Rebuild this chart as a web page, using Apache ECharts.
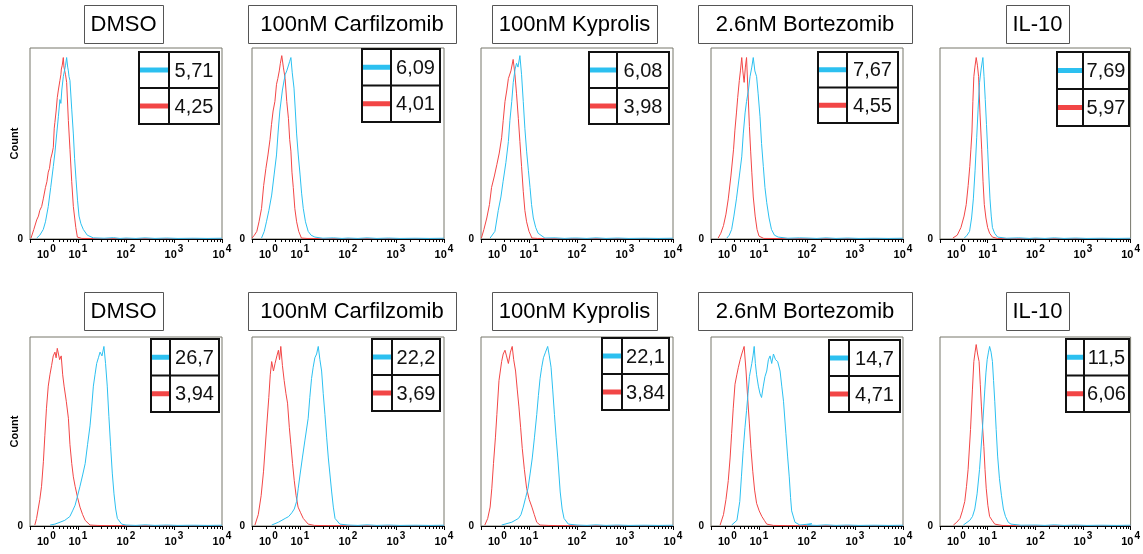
<!DOCTYPE html>
<html>
<head>
<meta charset="utf-8">
<title>MFI histograms</title>
<script src="https://cdn.jsdelivr.net/npm/echarts@6/dist/echarts.min.js"></script>
<style>
  html, body { margin: 0; padding: 0; background: #fff; }
  #chart { width: 1143px; height: 554px; }
</style>
</head>
<body>
<div id="chart"></div>
<script>
  // panel titles, same for both rows
  var titles = ['DMSO', '100nM Carfilzomib', '100nM Kyprolis', '2.6nM Bortezomib', 'IL-10'];
  var decadeTicks = [1, 10, 100, 1000, 10000];
  var minorTicks = [2, 3, 4, 5, 6, 7, 8, 9, 20, 30, 40, 50, 60, 70, 80, 90,
    200, 300, 400, 500, 600, 700, 800, 900, 2000, 3000, 4000, 5000, 6000, 7000, 8000, 9000];

  // MFI values in the small boxes (cyan first, red second)
  var topCyanMfi = ['5,71', '6,09', '6,08', '7,67', '7,69'];
  var topRedMfi = ['4,25', '4,01', '3,98', '4,55', '5,97'];
  var bottomCyanMfi = ['26,7', '22,2', '22,1', '14,7', '11,5'];
  var bottomRedMfi = ['3,94', '3,69', '3,84', '4,71', '6,06'];

  // histograms: [fluorescence, % of max count]
  var dmsoTopRed = [[1.05, 0.5], [1.2, 5], [1.38, 10], [1.5, 12], [1.6, 15], [1.75, 17], [1.89, 21], [2.1, 27], [2.25, 30], [2.4, 35], [2.55, 37], [2.7, 42], [2.9, 45], [3.06, 48], [3.2, 58], [3.3, 61], [3.5, 67], [3.7, 74], [3.9, 78], [4.2, 83], [4.4, 86], [4.5, 89], [4.7, 91], [4.94, 95], [5.1, 90], [5.3, 91], [5.5, 86], [5.8, 82], [6.3, 62], [6.8, 47], [7.4, 30], [8.0, 17], [9.0, 6], [9.7, 1], [12, 0.3]];
  var dmsoTopCyan = [[1.38, 0.5], [1.6, 2], [1.89, 5], [2.1, 9], [2.4, 17], [2.7, 27], [3.06, 38], [3.3, 45], [3.6, 55], [3.9, 64], [4.2, 73], [4.4, 71], [4.6, 78], [4.94, 85], [5.2, 84], [5.5, 91], [5.8, 95], [6.1, 90], [6.3, 88], [6.5, 85], [6.8, 83], [7.4, 68], [8.0, 55], [8.5, 42], [9.1, 31], [9.8, 20], [10.5, 12], [11.5, 8], [12.9, 5], [15.6, 2], [20.9, 0.6], [35, 0.4], [55, 0.7], [75, 0.3]];
  var carfTopRed = [[1.0, 0.5], [1.12, 2], [1.26, 4], [1.4, 9], [1.58, 16], [1.75, 28], [1.95, 37], [2.15, 44], [2.37, 52], [2.55, 60], [2.75, 67], [3.0, 72], [3.24, 81], [3.45, 84], [3.7, 88], [3.9, 92], [4.17, 96], [4.5, 90], [4.9, 84], [5.3, 72], [5.75, 63], [6.1, 52], [6.46, 46], [6.8, 35], [7.24, 27], [7.8, 16], [8.51, 9], [9.4, 4], [10.7, 0.5], [14, 0.3]];
  var carfTopCyan = [[1.58, 0.5], [1.8, 4], [2.0, 9], [2.25, 15], [2.57, 23], [2.9, 34], [3.24, 44], [3.5, 56], [3.8, 67], [4.3, 78], [4.9, 86], [5.3, 88], [5.75, 89], [6.1, 93], [6.46, 95], [6.9, 87], [7.5, 79], [8.0, 67], [8.51, 55], [9.2, 44], [10, 34], [10.8, 24], [11.7, 16], [13, 9], [14.8, 4], [17, 2], [20.4, 1], [30, 0.4], [50, 0.6], [75, 0.3]];
  var kypTopRed = [[1.02, 0.5], [1.15, 5], [1.32, 11], [1.5, 18], [1.66, 27], [1.9, 33], [2.14, 39], [2.4, 45], [2.69, 53], [2.9, 62], [3.16, 72], [3.45, 78], [3.72, 84], [4.2, 88], [4.68, 94], [5.1, 86], [5.5, 76], [6.0, 63], [6.46, 51], [7.0, 38], [7.59, 25], [8.2, 15], [8.91, 9], [10, 4], [11.5, 0.5], [15, 0.3]];
  var kypTopCyan = [[1.55, 0.5], [1.95, 4], [2.29, 15], [2.6, 22], [2.88, 30], [3.3, 40], [3.72, 51], [4.0, 62], [4.37, 72], [4.7, 82], [5.13, 89], [5.5, 92], [5.9, 90], [6.46, 96], [7.0, 86], [7.59, 72], [8.2, 58], [8.91, 46], [9.7, 36], [10.5, 27], [11.3, 18], [12.3, 11], [13.8, 6], [15.5, 3], [21.4, 0.5], [35, 0.6], [55, 0.3], [80, 0.5]];
  var bortTopRed = [[1.41, 0.5], [1.6, 3], [1.82, 7], [2.05, 13], [2.29, 21], [2.6, 33], [2.95, 47], [3.15, 57], [3.39, 66], [3.6, 74], [3.89, 83], [4.1, 88], [4.37, 95], [4.6, 88], [4.9, 82], [5.2, 90], [5.5, 95], [5.9, 77], [6.31, 59], [6.7, 46], [7.08, 35], [7.6, 22], [8.32, 12], [9.1, 5], [10, 1.5], [12.6, 0.3]];
  var bortTopCyan = [[2.14, 0.5], [2.4, 2], [2.69, 5], [3.0, 12], [3.39, 21], [3.9, 33], [4.37, 43], [4.7, 55], [5.13, 66], [5.5, 72], [6.03, 78], [6.5, 85], [7.08, 90], [7.59, 95], [8.2, 88], [8.91, 85], [9.6, 76], [10.5, 64], [11.3, 50], [12.3, 38], [13.3, 27], [14.5, 19], [16.2, 11], [18.2, 5], [21, 2], [25.1, 1], [40, 0.4], [70, 0.6]];
  var il10TopRed = [[1.86, 0.5], [2.3, 2], [2.75, 6], [3.2, 12], [3.55, 18], [3.9, 28], [4.22, 38], [4.45, 47], [4.68, 56], [4.9, 72], [5.13, 85], [5.4, 90], [5.75, 95], [6.1, 91], [6.46, 85], [6.9, 66], [7.5, 47], [8.0, 30], [8.51, 18], [9.2, 11], [10, 6], [11, 3], [12.6, 1], [16, 0.3]];
  var il10TopCyan = [[3.24, 0.5], [3.7, 2], [4.17, 4], [4.6, 11], [5.01, 21], [5.45, 36], [5.89, 53], [6.3, 68], [6.76, 82], [7.3, 89], [7.94, 95], [8.4, 85], [8.91, 73], [9.45, 60], [10, 47], [10.6, 33], [11.2, 21], [11.9, 12], [12.6, 6], [14, 3], [16.2, 1], [25, 0.4], [45, 0.6], [75, 0.3]];

  var dmsoBotRed = [[1.26, 0.5], [1.37, 4], [1.48, 9], [1.6, 14], [1.74, 21], [1.9, 34], [2.04, 48], [2.2, 62], [2.4, 74], [2.6, 80], [2.82, 85], [3.05, 90], [3.31, 92], [3.5, 89], [3.7, 94], [3.89, 95], [4.15, 88], [4.47, 90], [4.8, 80], [5.13, 74], [5.7, 66], [6.31, 57], [6.8, 43], [7.41, 33], [8.0, 26], [8.71, 21], [9.8, 15], [11.0, 10], [12.5, 6], [14.1, 3], [17.8, 0.5], [25, 0.3]];
  var dmsoBotCyan = [[2.63, 0.5], [3.3, 1], [4.22, 2], [5.3, 3], [6.76, 5], [7.7, 8], [8.71, 11], [9.8, 16], [11.0, 21], [12.5, 27], [14.1, 33], [15.8, 43], [17.8, 53], [19.3, 63], [20.9, 74], [22.6, 80], [24.5, 86], [26.6, 89], [28.8, 92], [31.6, 90], [34.7, 95], [37.5, 86], [40.7, 74], [44, 58], [47.9, 42], [51.8, 28], [56.2, 17], [61, 9], [66.1, 4], [81.3, 1]];
  var carfBotRed = [[1.15, 0.5], [1.35, 6], [1.55, 16], [1.74, 29], [2.04, 54], [2.24, 68], [2.4, 80], [2.57, 87], [2.8, 82], [3.02, 86], [3.3, 90], [3.55, 93], [3.75, 88], [3.98, 95], [4.3, 85], [4.68, 77], [5.1, 70], [5.5, 65], [6.0, 52], [6.46, 43], [7.0, 33], [7.59, 24], [8.3, 16], [9.12, 10], [10.3, 7], [11.7, 4], [14.8, 1], [20, 0.3]];
  var carfBotCyan = [[2.57, 0.5], [3.55, 2], [4.9, 4], [5.8, 5], [6.76, 7], [7.6, 9], [8.51, 13], [9.2, 20], [10, 27], [11.2, 36], [12.6, 45], [14.8, 57], [16, 68], [17.4, 78], [18.8, 84], [20.4, 89], [22.2, 91], [24.0, 95], [26, 88], [28.2, 82], [30.5, 70], [33.1, 59], [35.9, 47], [38.9, 36], [42.2, 27], [45.7, 18], [49.5, 10], [53.7, 4], [67.6, 1]];
  var kypBotRed = [[1.2, 0.5], [1.38, 4], [1.55, 10], [1.68, 20], [1.82, 33], [2.0, 47], [2.14, 59], [2.37, 77], [2.69, 87], [2.9, 91], [3.16, 93], [3.4, 90], [3.72, 86], [4.1, 92], [4.47, 95], [4.8, 88], [5.25, 82], [5.7, 72], [6.17, 63], [6.7, 52], [7.24, 41], [8.0, 30], [8.91, 20], [10.1, 14], [11.5, 10], [12.9, 6], [14.5, 2], [17.0, 0.5], [25, 0.3]];
  var kypBotCyan = [[2.69, 0.5], [4.37, 2], [6.03, 4], [6.8, 6], [7.59, 10], [8.5, 15], [9.55, 20], [10.6, 28], [11.7, 36], [13, 47], [14.5, 59], [15.7, 69], [17.0, 78], [18.4, 84], [20.0, 89], [22.1, 92], [24.5, 95], [26.5, 90], [28.8, 84], [31.2, 72], [33.9, 59], [36.7, 47], [39.8, 36], [44.7, 18], [49, 9], [53.7, 4], [66.1, 1]];
  var bortBotRed = [[1.55, 0.5], [1.82, 6], [2.05, 14], [2.29, 24], [2.5, 36], [2.69, 49], [2.9, 62], [3.16, 75], [3.45, 80], [3.72, 84], [4.05, 88], [4.37, 91], [4.9, 95], [5.37, 82], [5.8, 68], [6.31, 54], [6.8, 41], [7.41, 29], [8.1, 19], [8.91, 12], [10.1, 8], [11.5, 5], [12.9, 3], [14.5, 1], [20, 0.3]];
  var bortBotCyan = [[2.69, 0.5], [3.47, 3], [3.98, 13], [4.3, 26], [4.68, 40], [5.1, 52], [5.5, 61], [5.9, 70], [6.31, 79], [7.08, 86], [7.5, 90], [7.94, 95], [8.4, 86], [8.91, 80], [9.7, 74], [10.5, 70], [11.3, 68], [12.3, 74], [13.3, 79], [14.5, 82], [15.7, 88], [17.0, 90], [18.4, 86], [20.0, 91], [22.1, 88], [24.5, 87], [27.5, 82], [29.8, 74], [32.4, 66], [36.3, 49], [39.4, 37], [42.7, 26], [45.5, 15], [47.9, 8], [56.2, 2], [70.8, 0.5], [126, 1.2]];
  var il10BotRed = [[1.91, 0.5], [2.25, 2], [2.63, 4], [2.95, 8], [3.31, 13], [3.6, 21], [3.89, 30], [4.37, 51], [4.79, 72], [5.13, 87], [5.45, 92], [5.75, 96], [6.15, 91], [6.61, 87], [7.0, 75], [7.41, 63], [7.85, 52], [8.32, 42], [8.8, 30], [9.33, 20], [10.1, 11], [11.0, 5], [12.4, 3], [14.1, 1], [20, 0.3]];
  var il10BotCyan = [[3.09, 0.5], [4.22, 3], [4.8, 5], [5.37, 9], [6.0, 17], [6.76, 30], [7.76, 51], [8.71, 72], [9.2, 81], [9.77, 88], [10.4, 92], [11.0, 95], [11.8, 92], [12.6, 87], [13.3, 77], [14.1, 66], [15.1, 51], [16.2, 37], [17.7, 25], [19.5, 16], [21.4, 9], [23.7, 5], [27, 2], [30.9, 1], [50, 0.4]];

  // flat baseline the cyan trace keeps running along up to 10^4
  var cyanTail = [[100, 0.5], [160, 0.3], [250, 0.6], [400, 0.3], [700, 0.5], [1200, 0.3], [2500, 0.4], [5000, 0.3], [10000, 0.4]];
  var redTail = [[40, 0.2], [10000, 0.2]];

  var redCurves = [[dmsoTopRed, carfTopRed, kypTopRed, bortTopRed, il10TopRed],
    [dmsoBotRed, carfBotRed, kypBotRed, bortBotRed, il10BotRed]];
  var cyanCurves = [[dmsoTopCyan, carfTopCyan, kypTopCyan, bortTopCyan, il10TopCyan],
    [dmsoBotCyan, carfBotCyan, kypBotCyan, bortBotCyan, il10BotCyan]];
  var cyanMfi = [topCyanMfi, bottomCyanMfi];
  var redMfi = [topRedMfi, bottomRedMfi];

  // layout (pixels)
  var FONT = '"Liberation Sans", Arial, sans-serif';
  var RED = '#f24646';
  var CYAN = '#2cc0f0';
  var colLeft = [30, 252, 481, 711, 940];
  var plotWidth = 192;
  var rowTop = [48, 337];
  var rowHeight = [191, 189];
  var titleX = [[84, 163], [248, 456], [492, 657], [698, 912], [1006, 1069]];
  var titleY = [[5, 43], [292, 330]];
  // [x0, x1, divider, y0, y1]
  var legendBoxes = [
    [[139, 219, 169, 52, 124], [362, 440, 391, 49, 122], [589, 669, 617, 52, 124], [818, 898, 847, 52, 123], [1057, 1129, 1083, 52, 126]],
    [[151, 219, 170, 339, 412], [372, 440, 392, 339, 411], [602, 669, 622, 338, 410], [829, 900, 849, 340, 412], [1066, 1129, 1084, 339, 412]]
  ];

  var chart = echarts.init(document.getElementById('chart'), null, {renderer: 'canvas'});

  var grids = [], xAxes = [], yAxes = [], series = [], graphics = [];

  for (var r = 0; r < 2; r++) {
    for (var c = 0; c < 5; c++) {
      var idx = r * 5 + c;
      grids.push({
        left: colLeft[c], top: rowTop[r], width: plotWidth, height: rowHeight[r],
        show: true, borderColor: '#77776a', borderWidth: 1, backgroundColor: 'transparent'
      });
      // decades with labels
      xAxes.push({
        gridIndex: idx, type: 'log', logBase: 10, min: 1, max: 10000, position: 'bottom',
        axisLine: {lineStyle: {color: '#000', width: 1}},
        axisTick: {length: 4, lineStyle: {color: '#000'}, customValues: decadeTicks},
        splitLine: {show: false},
        axisLabel: {
          customValues: decadeTicks,
          margin: 5,
          alignMinLabel: 'left',
          formatter: function (v) {
            var e = Math.round(Math.log(v) / Math.LN10);
            return (e === 0 ? '{p| }' : '') + '{b|10}{s|' + e + '}';
          },
          rich: {
            p: {width: 7},
            b: {fontSize: 11, fontWeight: 'bold', fontFamily: FONT, color: '#000', padding: [5, 0, 0, 0]},
            s: {fontSize: 10, fontWeight: 'bold', fontFamily: FONT, color: '#000', padding: [0, 0, 5, 1]}
          }
        }
      });
      // minor ticks only
      xAxes.push({
        gridIndex: idx, type: 'log', logBase: 10, min: 1, max: 10000, position: 'bottom',
        axisLine: {show: false},
        axisTick: {length: 3, lineStyle: {color: '#000'}, customValues: minorTicks},
        axisLabel: {show: false},
        splitLine: {show: false}
      });
      yAxes.push({
        gridIndex: idx, type: 'value', min: 0, max: 100, interval: 100,
        axisLine: {show: false}, axisTick: {show: false}, splitLine: {show: false},
        axisLabel: {
          margin: 7, fontSize: 10, fontWeight: 'bold', fontFamily: FONT, color: '#000',
          formatter: function (v) { return v === 0 ? '0' : ''; }
        },
        name: c === 0 ? 'Count' : '',
        nameLocation: 'middle', nameRotate: 90, nameGap: 10, nameMoveOverlap: false,
        nameTextStyle: {fontSize: 11, fontWeight: 'bold', fontFamily: FONT, color: '#000'}
      });

      series.push({
        type: 'line', xAxisIndex: 2 * idx, yAxisIndex: idx,
        data: redCurves[r][c].concat(redTail),
        showSymbol: false, silent: true, animation: false,
        lineStyle: {width: 1, color: RED}
      });
      series.push({
        type: 'line', xAxisIndex: 2 * idx, yAxisIndex: idx,
        data: cyanCurves[r][c].concat(cyanTail),
        showSymbol: false, silent: true, animation: false,
        lineStyle: {width: 1, color: CYAN}
      });

      // title box
      var tx = titleX[c], ty = titleY[r];
      graphics.push({
        type: 'rect', shape: {x: tx[0] + 0.5, y: ty[0] + 0.5, width: tx[1] - tx[0], height: ty[1] - ty[0]},
        style: {fill: '#fff', stroke: '#555', lineWidth: 1}
      });
      graphics.push({
        type: 'text', z: 10,
        style: {text: titles[c], x: (tx[0] + tx[1]) / 2, y: (ty[0] + ty[1]) / 2 + 1,
          align: 'center', verticalAlign: 'middle', fontSize: 22, fontFamily: FONT, fill: '#000'}
      });

      // MFI box
      var lb = legendBoxes[r][c];
      var midY = (lb[3] + lb[4]) / 2;
      graphics.push({
        type: 'rect', z: 10, shape: {x: lb[0], y: lb[3], width: lb[1] - lb[0], height: lb[4] - lb[3]},
        style: {fill: '#fff', stroke: '#111', lineWidth: 2}
      });
      graphics.push({type: 'line', z: 11, shape: {x1: lb[2], y1: lb[3], x2: lb[2], y2: lb[4]}, style: {stroke: '#111', lineWidth: 2}});
      graphics.push({type: 'line', z: 11, shape: {x1: lb[0], y1: midY, x2: lb[1], y2: midY}, style: {stroke: '#111', lineWidth: 2}});
      graphics.push({type: 'line', z: 12, shape: {x1: lb[0] + 1, y1: (lb[3] + midY) / 2, x2: lb[2] - 1, y2: (lb[3] + midY) / 2}, style: {stroke: CYAN, lineWidth: 5}});
      graphics.push({type: 'line', z: 12, shape: {x1: lb[0] + 1, y1: (midY + lb[4]) / 2, x2: lb[2] - 1, y2: (midY + lb[4]) / 2}, style: {stroke: RED, lineWidth: 5}});
      graphics.push({
        type: 'text', z: 12,
        style: {text: cyanMfi[r][c], x: (lb[2] + lb[1]) / 2, y: (lb[3] + midY) / 2 + 1,
          align: 'center', verticalAlign: 'middle', fontSize: 20, fontFamily: FONT, fill: '#111'}
      });
      graphics.push({
        type: 'text', z: 12,
        style: {text: redMfi[r][c], x: (lb[2] + lb[1]) / 2, y: (midY + lb[4]) / 2 + 1,
          align: 'center', verticalAlign: 'middle', fontSize: 20, fontFamily: FONT, fill: '#111'}
      });
    }
  }

  chart.setOption({
    animation: false,
    backgroundColor: '#fff',
    grid: grids,
    xAxis: xAxes,
    yAxis: yAxes,
    series: series,
    graphic: graphics
  });
</script>
</body>
</html>
